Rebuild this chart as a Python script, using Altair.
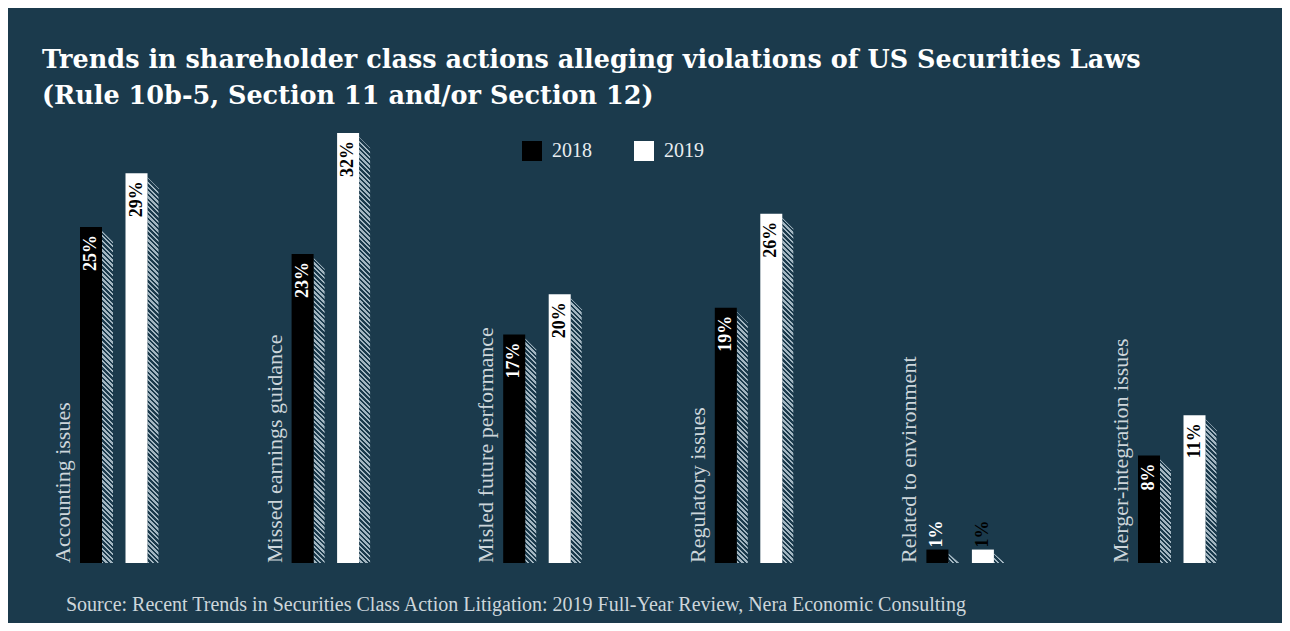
import math
import altair as alt
import pandas as pd

# ---------------- data ----------------
categories = ["Accounting issues", "Missed earnings guidance", "Misled future performance",
              "Regulatory issues", "Related to environment", "Merger-integration issues"]
years = ["2018", "2019"]
values_2018 = [25, 23, 17, 19, 1, 8]
values_2019 = [29, 32, 20, 26, 1, 11]
title_lines = ["Trends in shareholder class actions alleging violations of US Securities Laws",
               "(Rule 10b-5, Section 11 and/or Section 12)"]
source_text = ("Source: Recent Trends in Securities Class Action Litigation: "
               "2019 Full-Year Review, Nera Economic Consulting")

# ---------------- style / layout ----------------
BG = "#1b3a4c"
HATCH = "#a3b6c1"
LABEL = "#cdd6db"
SERIF = "Liberation Serif"
TITLE_FONT = "DejaVu Serif"

W, H = 1274, 430
PAD = {"left": 0, "right": 0, "top": 125, "bottom": 60}
GROUP_PX = 211.6
U = 1.0 / GROUP_PX
BAR_W = 22 * U
YEAR_OFF = {"2018": 0.0, "2019": 45.5 * U}
SH_W_PX = 11
YMAX = 32
PX = H / YMAX
X_MIN = -72 * U
X_MAX = X_MIN + W * U


def hatch(w, h, period=3.4):
    r = h / w
    s = (1 + r) / (1 + r * r)
    n = (w + h) / (math.sqrt(2) * period)
    stops = []
    k = 0
    while k < n:
        a = round(k / n, 5)
        b = round(min((k + 0.5) / n, 1.0), 5)
        c = round(min((k + 1) / n, 1.0), 5)
        stops += [{"offset": a, "color": HATCH}, {"offset": b, "color": HATCH},
                  {"offset": b, "color": BG}, {"offset": c, "color": BG}]
        k += 1
    return {"gradient": "linear", "x1": 1, "y1": 0, "x2": 1 - s, "y2": s * r, "stops": stops}


bar_rows, sh_rows, grads, cat_rows = [], [], [], []
for i, cat in enumerate(categories):
    cat_rows.append(dict(cat=cat, lx=i - 10 * U, zero=0))
    for yr, vals in zip(years, [values_2018, values_2019]):
        v = vals[i]
        x0 = i + YEAR_OFF[yr]
        x1 = x0 + BAR_W
        bid = f"b{i}_{yr}"
        bar_rows.append(dict(cat=cat, year=yr, value=v, zero=0, x0=x0, x1=x1,
                             xc=(x0 + x1) / 2, label=f"{v}%", bid=bid))
        top_px = v * PX - 4
        right_px = max(v * PX - 4 - SH_W_PX, 0)
        sh_rows.append(dict(bid=bid, sx=x1, sy=top_px / PX, zero=0))
        sh_rows.append(dict(bid=bid, sx=x1 + SH_W_PX * U, sy=right_px / PX, zero=0))
        grads.append((bid, hatch(SH_W_PX, top_px)))

bars_df = pd.DataFrame(bar_rows)
sh_df = pd.DataFrame(sh_rows)
cat_df = pd.DataFrame(cat_rows)
src_df = pd.DataFrame({"t": [source_text]})

xs = alt.Scale(domain=[X_MIN, X_MAX], nice=False, zero=False)
ys = alt.Scale(domain=[0, YMAX], nice=False, zero=True)

shadows = alt.Chart(sh_df).mark_area(interpolate="linear", opacity=1).encode(
    x=alt.X("sx:Q", scale=xs, axis=None),
    y=alt.Y("sy:Q", scale=ys, axis=None, stack=None),
    y2="zero:Q",
    detail="bid:N",
    fill=alt.FillValue(BG, condition=[{"test": f"datum.bid === '{b}'", "value": g} for b, g in grads]),
)

bars = alt.Chart(bars_df).mark_rect().encode(
    x=alt.X("x0:Q", scale=xs, axis=None),
    x2="x1:Q",
    y=alt.Y("value:Q", scale=ys, axis=None, stack=None),
    y2="zero:Q",
    color=alt.Color("year:N", scale=alt.Scale(domain=years, range=["#000000", "#ffffff"]),
                    legend=alt.Legend(title=None, orient="none", legendX=514, legendY=8,
                                      direction="horizontal", symbolType="square", symbolSize=400,
                                      symbolStrokeWidth=0, symbolOpacity=1, labelFont=SERIF,
                                      labelFontSize=20, labelColor="#e8edf0", labelOffset=10,
                                      columnPadding=42, padding=0)),
)

cat_labels = alt.Chart(cat_df).mark_text(angle=270, align="left", baseline="alphabetic",
                                         font=SERIF, fontSize=22, color=LABEL).encode(
    x=alt.X("lx:Q", scale=xs, axis=None),
    y=alt.Y("zero:Q", scale=ys, axis=None),
    text="cat:N",
)

label_color = alt.condition("datum.year === '2018'", alt.value("#ffffff"), alt.value("#000000"))

# with angle=270 the text's own x axis points up the screen, so dx moves along the bar
val_in = alt.Chart(bars_df).transform_filter("datum.value >= 3").mark_text(
    angle=270, align="right", baseline="middle", dx=-8, font=SERIF, fontSize=18,
    fontWeight="bold").encode(
    x=alt.X("xc:Q", scale=xs, axis=None),
    y=alt.Y("value:Q", scale=ys, axis=None),
    text="label:N",
    color=label_color,
)

val_out = alt.Chart(bars_df).transform_filter("datum.value < 3").mark_text(
    angle=270, align="left", baseline="middle", dx=2, font=SERIF, fontSize=18,
    fontWeight="bold").encode(
    x=alt.X("xc:Q", scale=xs, axis=None),
    y=alt.Y("value:Q", scale=ys, axis=None),
    text="label:N",
    color=label_color,
)

src = alt.Chart(src_df).mark_text(align="left", baseline="alphabetic", font=SERIF,
                                  fontSize=20, color=LABEL).encode(
    x=alt.value(58), y=alt.value(478), text="t:N")

chart = alt.layer(shadows, bars, cat_labels, val_in, val_out, src).properties(
    width=W, height=H, background=BG, padding=PAD,
    autosize=alt.AutoSizeParams(type="none"),
    title=alt.TitleParams(text=title_lines, anchor="start", dx=34, offset=24, font=TITLE_FONT,
                          fontSize=25.5, fontWeight="bold", color="#ffffff", lineHeight=36),
).configure_view(stroke=None)

chart.save("out.html", embed_options={"renderer": "svg", "actions": False})
